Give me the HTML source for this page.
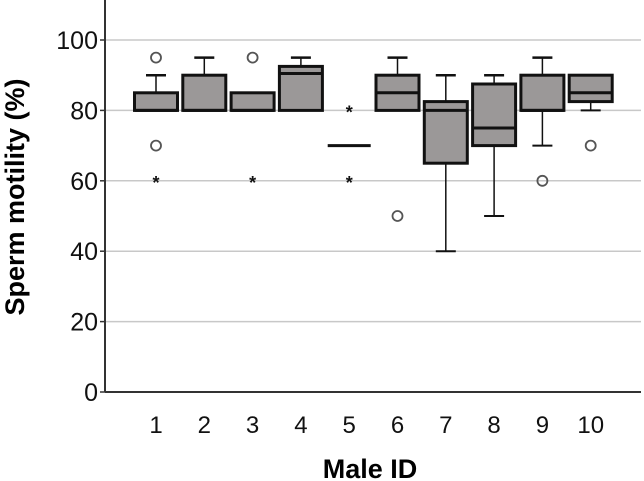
<!DOCTYPE html>
<html><head><meta charset="utf-8">
<style>
html,body{margin:0;padding:0;background:#fff;}
svg{display:block;font-family:"Liberation Sans",sans-serif;}
</style></head>
<body>
<svg id="chart" width="644" height="481" viewBox="0 0 644 481">
<g id="grid"></g>
<g id="yaxis"></g>
<g id="boxes"></g>
<g id="xaxis"></g>
<text x="0" y="0" transform="translate(24,197) rotate(-90)" text-anchor="middle" font-size="27" font-weight="bold">Sperm motility (%)</text>
<text x="370" y="478" text-anchor="middle" font-size="27" font-weight="bold">Male ID</text>
</svg>
<script>
const categories = ["1","2","3","4","5","6","7","8","9","10"];
const q1 = [80,80,80,80,70,80,65,70,80,82.5];
const medians = [80,80,80,90.5,70,85,80,75,80,85];
const q3 = [85,90,85,92.5,70,90,82.5,87.5,90,90];
const whiskerLow = [80,80,80,80,70,80,40,50,70,80];
const whiskerHigh = [90,95,85,95,70,95,90,90,95,90];
const circleOutliers = [[95,70],[],[95],[],[],[50],[],[],[60],[70]];
const starOutliers = [[60],[],[60],[],[80,60],[],[],[],[],[]];
const yTicks = [0,20,40,60,80,100];

const NS = "http://www.w3.org/2000/svg";
const left = 105, right = 641, y0 = 392, pxPer = 3.52;
const yS = v => y0 - v * pxPer;
const x0 = 156, step = 48.3;
const xS = i => x0 + i * step;
const bw = 43;

function mk(parent, tag, attrs){
  const e = document.createElementNS(NS, tag);
  for (const k in attrs) e.setAttribute(k, attrs[k]);
  parent.appendChild(e);
  return e;
}
const grid = document.getElementById('grid');
const yaxis = document.getElementById('yaxis');
const boxes = document.getElementById('boxes');
const xaxis = document.getElementById('xaxis');

yTicks.forEach(t => {
  if (t > 0) {
    const g = mk(grid, 'line', {x1:left, x2:right, y1:yS(t), y2:yS(t), stroke:'#c8c8c8', 'stroke-width':1.5});
    
    
  }
  const tk = mk(yaxis, 'line', {x1:left-5, x2:left, y1:yS(t), y2:yS(t), stroke:'#333', 'stroke-width':1.5});
  
  
  const lb = mk(yaxis, 'text', {x:98, y:yS(t)+9, 'text-anchor':'end', 'font-size':25, fill:'#111'});
  lb.textContent = t;
  
  
});
const ya = mk(yaxis, 'line', {x1:left, x2:left, y1:0, y2:y0, stroke:'#333', 'stroke-width':2});


const xa = mk(xaxis, 'line', {x1:left, x2:right, y1:y0, y2:y0, stroke:'#333', 'stroke-width':2});



categories.forEach((c, i) => {
  const cx = xS(i);
  const g = mk(boxes, 'g', {});
  
  
  if (whiskerHigh[i] > q3[i]) {
    mk(g, 'line', {x1:cx, x2:cx, y1:yS(q3[i]), y2:yS(whiskerHigh[i]), stroke:'#111', 'stroke-width':1.5});
    mk(g, 'line', {x1:cx-10, x2:cx+10, y1:yS(whiskerHigh[i]), y2:yS(whiskerHigh[i]), stroke:'#111', 'stroke-width':2.5});
  }
  if (whiskerLow[i] < q1[i]) {
    mk(g, 'line', {x1:cx, x2:cx, y1:yS(q1[i]), y2:yS(whiskerLow[i]), stroke:'#111', 'stroke-width':1.5});
    mk(g, 'line', {x1:cx-10, x2:cx+10, y1:yS(whiskerLow[i]), y2:yS(whiskerLow[i]), stroke:'#111', 'stroke-width':2});
  }
  if (q3[i] > q1[i]) {
    mk(g, 'rect', {x:cx-bw/2, y:yS(q3[i]), width:bw, height:yS(q1[i])-yS(q3[i]), fill:'#9b9898', stroke:'#111', 'stroke-width':3});
  }
  mk(g, 'line', {x1:cx-bw/2, x2:cx+bw/2, y1:yS(medians[i]), y2:yS(medians[i]), stroke:'#111', 'stroke-width':3});
  circleOutliers[i].forEach(v => {
    const o = mk(g, 'circle', {cx:cx, cy:yS(v), r:5, fill:'none', stroke:'#555', 'stroke-width':1.8});
    
    
  });
  starOutliers[i].forEach(v => {
    const s = mk(g, 'text', {x:cx, y:yS(v)+8, 'text-anchor':'middle', 'font-size':18, 'font-weight':'bold', fill:'#111'});
    s.textContent = '*';
    
    
  });
  const lb = mk(xaxis, 'text', {x:cx, y:433, 'text-anchor':'middle', 'font-size':24, fill:'#111'});
  lb.textContent = c;
  
  
});
</script>
</body></html>
